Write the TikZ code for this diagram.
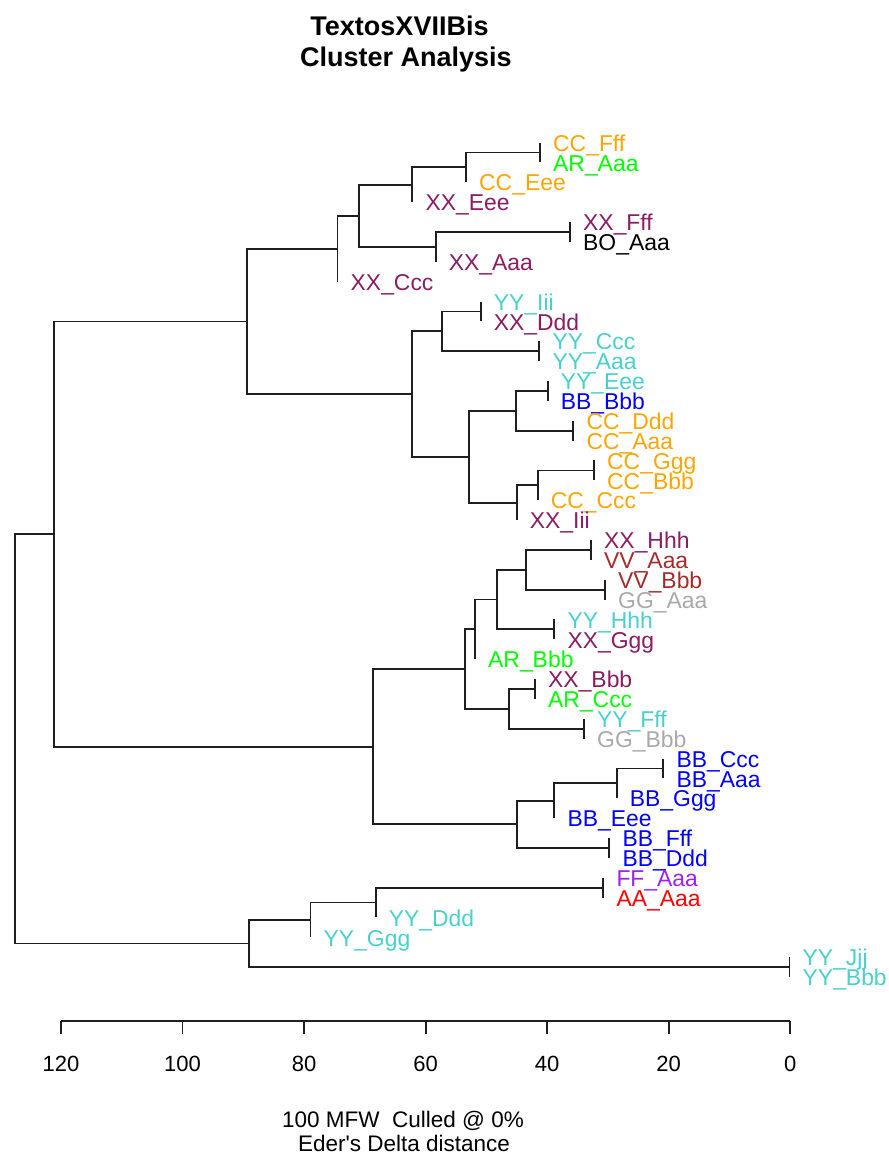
\documentclass[tikz,border=0pt]{standalone}
\usepackage{fontspec}
\setmainfont{Liberation Sans}
\definecolor{cRed}{HTML}{FF0000}
\definecolor{cGreen}{HTML}{00FF00}
\definecolor{cBlue}{HTML}{0000FF}
\definecolor{cOrange}{HTML}{FFA500}
\definecolor{cPurple}{HTML}{A020F0}
\definecolor{cGrey}{HTML}{A9A9A9}
\definecolor{cBrown}{HTML}{A52A2A}
\definecolor{cMaroon}{HTML}{8B1C62}
\definecolor{cTurq}{HTML}{48D1CC}
\tikzset{
  edge/.style={line width=1.8pt, draw=black!88},
  lab/.style={anchor=base west, inner sep=0pt, font=\fontsize{22.9}{24}\selectfont},
  ticklab/.style={anchor=base, inner sep=0pt, font=\fontsize{22}{24}\selectfont},
  sub/.style={anchor=base, inner sep=0pt, font=\fontsize{22.5}{24}\selectfont\addfontfeatures{Ligatures=TeXOff}},
  ttl/.style={anchor=base, inner sep=0pt, font=\fontsize{27}{30}\selectfont\bfseries},
}
\begin{document}
\begin{tikzpicture}[x=1pt,y=-1pt]
\useasboundingbox (0,0) rectangle (889,1157);
% internal nodes
\coordinate (n1) at (540,152.4);
\coordinate (n2) at (466,167.3);
\coordinate (n3) at (412.3,184.7);
\coordinate (n4) at (570,231.9);
\coordinate (n5) at (435.7,246.8);
\coordinate (n6) at (359,215.8);
\coordinate (n7) at (337.5,248.7);
\coordinate (n8) at (480.7,311.4);
\coordinate (n9) at (539.3,351.1);
\coordinate (n10) at (441.7,331.3);
\coordinate (n11) at (547.7,390.9);
\coordinate (n12) at (573.3,430.6);
\coordinate (n13) at (515.7,410.7);
\coordinate (n14) at (594,470.4);
\coordinate (n15) at (537.7,485.3);
\coordinate (n16) at (516.7,502.7);
\coordinate (n17) at (469.3,456.7);
\coordinate (n18) at (412,394);
\coordinate (n19) at (247.3,321.4);
\coordinate (n20) at (591,549.8);
\coordinate (n21) at (605,589.6);
\coordinate (n22) at (526,569.7);
\coordinate (n23) at (554.3,629.3);
\coordinate (n24) at (497.3,599.5);
\coordinate (n25) at (475,629.3);
\coordinate (n26) at (535,688.9);
\coordinate (n27) at (584,728.7);
\coordinate (n28) at (509.3,708.8);
\coordinate (n29) at (465,669.1);
\coordinate (n30) at (663.3,768.4);
\coordinate (n31) at (616.7,783.3);
\coordinate (n32) at (554.3,800.7);
\coordinate (n33) at (609.3,847.9);
\coordinate (n34) at (516.7,824.3);
\coordinate (n35) at (373.3,746.7);
\coordinate (n36) at (54.3,534.1);
\coordinate (n37) at (603.3,887.6);
\coordinate (n38) at (375.7,902.5);
\coordinate (n39) at (310.5,919.9);
\coordinate (n40) at (789.5,967.1);
\coordinate (n41) at (249.3,943.5);
\coordinate (root) at (15,738.8);
% leaves
\coordinate (l1) at (540,142.5);
\coordinate (l2) at (540,162.4);
\coordinate (l3) at (466,182.2);
\coordinate (l4) at (412.3,202.1);
\coordinate (l5) at (570,222.0);
\coordinate (l6) at (570,241.9);
\coordinate (l7) at (435.7,261.7);
\coordinate (l8) at (337.5,281.6);
\coordinate (l9) at (480.7,301.5);
\coordinate (l10) at (480.7,321.3);
\coordinate (l11) at (539.3,341.2);
\coordinate (l12) at (539.3,361.1);
\coordinate (l13) at (547.7,380.9);
\coordinate (l14) at (547.7,400.8);
\coordinate (l15) at (573.3,420.7);
\coordinate (l16) at (573.3,440.6);
\coordinate (l17) at (594,460.4);
\coordinate (l18) at (594,480.3);
\coordinate (l19) at (537.7,500.2);
\coordinate (l20) at (516.7,520.0);
\coordinate (l21) at (591,539.9);
\coordinate (l22) at (591,559.8);
\coordinate (l23) at (605,579.6);
\coordinate (l24) at (605,599.5);
\coordinate (l25) at (554.3,619.4);
\coordinate (l26) at (554.3,639.3);
\coordinate (l27) at (475,659.1);
\coordinate (l28) at (535,679.0);
\coordinate (l29) at (535,698.9);
\coordinate (l30) at (584,718.7);
\coordinate (l31) at (584,738.6);
\coordinate (l32) at (663.3,758.5);
\coordinate (l33) at (663.3,778.3);
\coordinate (l34) at (616.7,798.2);
\coordinate (l35) at (554.3,818.1);
\coordinate (l36) at (609.3,838.0);
\coordinate (l37) at (609.3,857.8);
\coordinate (l38) at (603.3,877.7);
\coordinate (l39) at (603.3,897.6);
\coordinate (l40) at (375.7,917.4);
\coordinate (l41) at (310.5,937.3);
\coordinate (l42) at (789.5,957.2);
\coordinate (l43) at (789.5,977.0);
% edges
\draw[edge] (n1) |- (l1); \draw[edge] (n1) |- (l2);
\draw[edge] (n2) |- (n1); \draw[edge] (n2) |- (l3);
\draw[edge] (n3) |- (n2); \draw[edge] (n3) |- (l4);
\draw[edge] (n4) |- (l5); \draw[edge] (n4) |- (l6);
\draw[edge] (n5) |- (n4); \draw[edge] (n5) |- (l7);
\draw[edge] (n6) |- (n3); \draw[edge] (n6) |- (n5);
\draw[edge] (n7) |- (n6); \draw[edge] (n7) |- (l8);
\draw[edge] (n8) |- (l9); \draw[edge] (n8) |- (l10);
\draw[edge] (n9) |- (l11); \draw[edge] (n9) |- (l12);
\draw[edge] (n10) |- (n8); \draw[edge] (n10) |- (n9);
\draw[edge] (n11) |- (l13); \draw[edge] (n11) |- (l14);
\draw[edge] (n12) |- (l15); \draw[edge] (n12) |- (l16);
\draw[edge] (n13) |- (n11); \draw[edge] (n13) |- (n12);
\draw[edge] (n14) |- (l17); \draw[edge] (n14) |- (l18);
\draw[edge] (n15) |- (n14); \draw[edge] (n15) |- (l19);
\draw[edge] (n16) |- (n15); \draw[edge] (n16) |- (l20);
\draw[edge] (n17) |- (n13); \draw[edge] (n17) |- (n16);
\draw[edge] (n18) |- (n10); \draw[edge] (n18) |- (n17);
\draw[edge] (n19) |- (n7); \draw[edge] (n19) |- (n18);
\draw[edge] (n20) |- (l21); \draw[edge] (n20) |- (l22);
\draw[edge] (n21) |- (l23); \draw[edge] (n21) |- (l24);
\draw[edge] (n22) |- (n20); \draw[edge] (n22) |- (n21);
\draw[edge] (n23) |- (l25); \draw[edge] (n23) |- (l26);
\draw[edge] (n24) |- (n22); \draw[edge] (n24) |- (n23);
\draw[edge] (n25) |- (n24); \draw[edge] (n25) |- (l27);
\draw[edge] (n26) |- (l28); \draw[edge] (n26) |- (l29);
\draw[edge] (n27) |- (l30); \draw[edge] (n27) |- (l31);
\draw[edge] (n28) |- (n26); \draw[edge] (n28) |- (n27);
\draw[edge] (n29) |- (n25); \draw[edge] (n29) |- (n28);
\draw[edge] (n30) |- (l32); \draw[edge] (n30) |- (l33);
\draw[edge] (n31) |- (n30); \draw[edge] (n31) |- (l34);
\draw[edge] (n32) |- (n31); \draw[edge] (n32) |- (l35);
\draw[edge] (n33) |- (l36); \draw[edge] (n33) |- (l37);
\draw[edge] (n34) |- (n32); \draw[edge] (n34) |- (n33);
\draw[edge] (n35) |- (n29); \draw[edge] (n35) |- (n34);
\draw[edge] (n36) |- (n19); \draw[edge] (n36) |- (n35);
\draw[edge] (n37) |- (l38); \draw[edge] (n37) |- (l39);
\draw[edge] (n38) |- (n37); \draw[edge] (n38) |- (l40);
\draw[edge] (n39) |- (n38); \draw[edge] (n39) |- (l41);
\draw[edge] (n40) |- (l42); \draw[edge] (n40) |- (l43);
\draw[edge] (n41) |- (n39); \draw[edge] (n41) |- (n40);
\draw[edge] (root) |- (n36); \draw[edge] (root) |- (n41);
% labels
\node[lab,text=cOrange] (t1) at ([xshift=13pt,yshift=-8.7pt]l1) {CC\_Fff};
\node[lab,text=cGreen] (t2) at ([xshift=13pt,yshift=-8.7pt]l2) {AR\_Aaa};
\node[lab,text=cOrange] (t3) at ([xshift=13pt,yshift=-8.7pt]l3) {CC\_Eee};
\node[lab,text=cMaroon] (t4) at ([xshift=13pt,yshift=-8.7pt]l4) {XX\_Eee};
\node[lab,text=cMaroon] (t5) at ([xshift=13pt,yshift=-8.7pt]l5) {XX\_Fff};
\node[lab,text=black] (t6) at ([xshift=13pt,yshift=-8.7pt]l6) {BO\_Aaa};
\node[lab,text=cMaroon] (t7) at ([xshift=13pt,yshift=-8.7pt]l7) {XX\_Aaa};
\node[lab,text=cMaroon] (t8) at ([xshift=13pt,yshift=-8.7pt]l8) {XX\_Ccc};
\node[lab,text=cTurq] (t9) at ([xshift=13pt,yshift=-8.7pt]l9) {YY\_Iii};
\node[lab,text=cMaroon] (t10) at ([xshift=13pt,yshift=-8.7pt]l10) {XX\_Ddd};
\node[lab,text=cTurq] (t11) at ([xshift=13pt,yshift=-8.7pt]l11) {YY\_Ccc};
\node[lab,text=cTurq] (t12) at ([xshift=13pt,yshift=-8.7pt]l12) {YY\_Aaa};
\node[lab,text=cTurq] (t13) at ([xshift=13pt,yshift=-8.7pt]l13) {YY\_Eee};
\node[lab,text=cBlue] (t14) at ([xshift=13pt,yshift=-8.7pt]l14) {BB\_Bbb};
\node[lab,text=cOrange] (t15) at ([xshift=13pt,yshift=-8.7pt]l15) {CC\_Ddd};
\node[lab,text=cOrange] (t16) at ([xshift=13pt,yshift=-8.7pt]l16) {CC\_Aaa};
\node[lab,text=cOrange] (t17) at ([xshift=13pt,yshift=-8.7pt]l17) {CC\_Ggg};
\node[lab,text=cOrange] (t18) at ([xshift=13pt,yshift=-8.7pt]l18) {CC\_Bbb};
\node[lab,text=cOrange] (t19) at ([xshift=13pt,yshift=-8.7pt]l19) {CC\_Ccc};
\node[lab,text=cMaroon] (t20) at ([xshift=13pt,yshift=-8.7pt]l20) {XX\_Iii};
\node[lab,text=cMaroon] (t21) at ([xshift=13pt,yshift=-8.7pt]l21) {XX\_Hhh};
\node[lab,text=cBrown] (t22) at ([xshift=13pt,yshift=-8.7pt]l22) {VV\_Aaa};
\node[lab,text=cBrown] (t23) at ([xshift=13pt,yshift=-8.7pt]l23) {VV\_Bbb};
\node[lab,text=cGrey] (t24) at ([xshift=13pt,yshift=-8.7pt]l24) {GG\_Aaa};
\node[lab,text=cTurq] (t25) at ([xshift=13pt,yshift=-8.7pt]l25) {YY\_Hhh};
\node[lab,text=cMaroon] (t26) at ([xshift=13pt,yshift=-8.7pt]l26) {XX\_Ggg};
\node[lab,text=cGreen] (t27) at ([xshift=13pt,yshift=-8.7pt]l27) {AR\_Bbb};
\node[lab,text=cMaroon] (t28) at ([xshift=13pt,yshift=-8.7pt]l28) {XX\_Bbb};
\node[lab,text=cGreen] (t29) at ([xshift=13pt,yshift=-8.7pt]l29) {AR\_Ccc};
\node[lab,text=cTurq] (t30) at ([xshift=13pt,yshift=-8.7pt]l30) {YY\_Fff};
\node[lab,text=cGrey] (t31) at ([xshift=13pt,yshift=-8.7pt]l31) {GG\_Bbb};
\node[lab,text=cBlue] (t32) at ([xshift=13pt,yshift=-8.7pt]l32) {BB\_Ccc};
\node[lab,text=cBlue] (t33) at ([xshift=13pt,yshift=-8.7pt]l33) {BB\_Aaa};
\node[lab,text=cBlue] (t34) at ([xshift=13pt,yshift=-8.7pt]l34) {BB\_Ggg};
\node[lab,text=cBlue] (t35) at ([xshift=13pt,yshift=-8.7pt]l35) {BB\_Eee};
\node[lab,text=cBlue] (t36) at ([xshift=13pt,yshift=-8.7pt]l36) {BB\_Fff};
\node[lab,text=cBlue] (t37) at ([xshift=13pt,yshift=-8.7pt]l37) {BB\_Ddd};
\node[lab,text=cPurple] (t38) at ([xshift=13pt,yshift=-8.7pt]l38) {FF\_Aaa};
\node[lab,text=cRed] (t39) at ([xshift=13pt,yshift=-8.7pt]l39) {AA\_Aaa};
\node[lab,text=cTurq] (t40) at ([xshift=13pt,yshift=-8.7pt]l40) {YY\_Ddd};
\node[lab,text=cTurq] (t41) at ([xshift=13pt,yshift=-8.7pt]l41) {YY\_Ggg};
\node[lab,text=cTurq] (t42) at ([xshift=13pt,yshift=-8.7pt]l42) {YY\_Jjj};
\node[lab,text=cTurq] (t43) at ([xshift=13pt,yshift=-8.7pt]l43) {YY\_Bbb};
% axis
\coordinate (a120) at (61,1020.7);
\coordinate (a0) at (790.2,1020.7);
\draw[edge] (a120) -- (a0);
\foreach \h/\nm in {120/k120,100/k100,80/k80,60/k60,40/k40,20/k20,0/k0} {
  \coordinate (\nm) at ({790.2-6.0767*\h},1020.7);
  \draw[edge] (\nm) -- ++(0,13.5);
  \node[ticklab] (lab\nm) at ({790.2-6.0767*\h},1071) {\h};
}
% title and subtitle
\node[ttl] (title1) at (399.5,35) {TextosXVIIBis};
\node[ttl] (title2) at (406,66.7) {Cluster Analysis};
\node[sub] (sub1) at (403,1127.3) {100 MFW\ \ Culled @ 0\%};
\node[sub] (sub2) at (404,1151.7) {Eder's Delta distance};
\end{tikzpicture}
\end{document}
